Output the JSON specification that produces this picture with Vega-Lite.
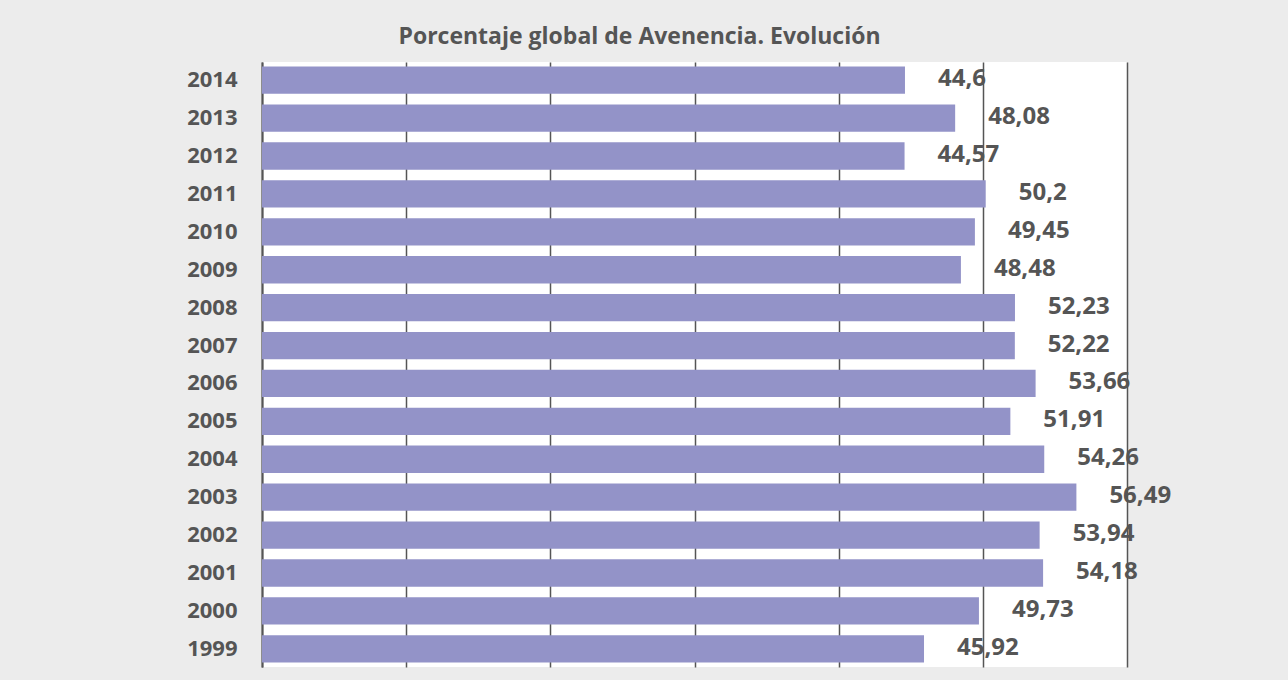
{
  "$schema": "https://vega.github.io/schema/vega-lite/v6.json",
  "width": 865,
  "height": 605,
  "autosize": {"type": "none"},
  "padding": {"left": 262, "top": 62, "right": 161, "bottom": 13},
  "background": "#ececec",
  "title": {
    "text": "Porcentaje global de Avenencia. Evolución",
    "anchor": "middle",
    "dx": -55,
    "offset": 13,
    "fontSize": 23,
    "fontWeight": "bold",
    "color": "#555555",
    "font": "Open Sans"
  },
  "data": {
    "values": [
      {"year": "2014", "value": 44.6},
      {"year": "2013", "value": 48.08},
      {"year": "2012", "value": 44.57},
      {"year": "2011", "value": 50.2},
      {"year": "2010", "value": 49.45},
      {"year": "2009", "value": 48.48},
      {"year": "2008", "value": 52.23},
      {"year": "2007", "value": 52.22},
      {"year": "2006", "value": 53.66},
      {"year": "2005", "value": 51.91},
      {"year": "2004", "value": 54.26},
      {"year": "2003", "value": 56.49},
      {"year": "2002", "value": 53.94},
      {"year": "2001", "value": 54.18},
      {"year": "2000", "value": 49.73},
      {"year": "1999", "value": 45.92}
    ]
  },
  "encoding": {
    "y": {
      "field": "year",
      "type": "ordinal",
      "sort": "descending",
      "scale": {"paddingInner": 0.28, "paddingOuter": 0.12},
      "axis": {
        "title": null,
        "ticks": false,
        "domain": true,
        "domainColor": "#555555",
        "domainWidth": 2,
        "labelFontSize": 22,
        "labelFontWeight": "bold",
        "labelColor": "#555555",
        "labelPadding": 25,
        "labelFont": "Open Sans"
      }
    },
    "x": {
      "field": "value",
      "type": "quantitative",
      "scale": {"domain": [0, 60], "nice": false},
      "axis": {
        "title": null,
        "values": [0, 10, 20, 30, 40, 50, 60],
        "grid": true,
        "gridColor": "#555555",
        "gridWidth": 1.5,
        "labels": false,
        "ticks": false,
        "domain": false
      }
    }
  },
  "layer": [
    {"mark": {"type": "bar", "color": "#9393c8"}},
    {
      "mark": {
        "type": "text",
        "align": "left",
        "baseline": "middle",
        "dx": 33,
        "dy": -1,
        "fontSize": 24,
        "fontWeight": "bold",
        "color": "#555555",
        "font": "Open Sans"
      },
      "encoding": {"text": {"field": "value", "type": "quantitative", "format": ".2~f"}}
    }
  ],
  "config": {
    "font": "Open Sans",
    "view": {"fill": "white", "stroke": null},
    "locale": {"number": {"decimal": ",", "thousands": ".", "grouping": [3], "currency": ["", " €"]}}
  }
}
